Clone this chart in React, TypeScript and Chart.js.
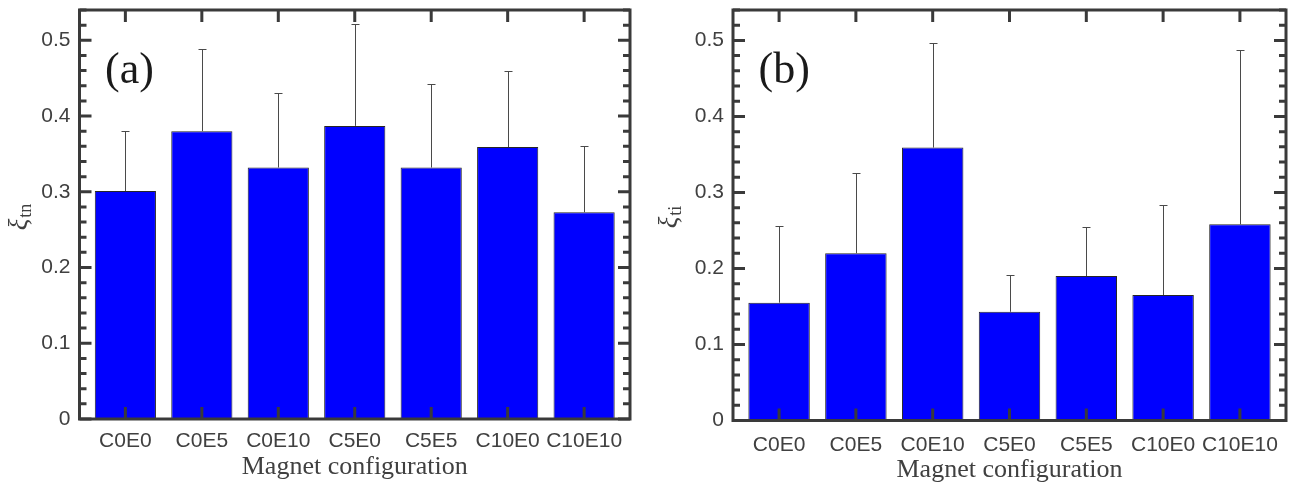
import React, { useEffect, useRef } from 'react';
import { Chart, registerables } from 'chart.js';

Chart.register(...registerables);

const categories = ['C0E0', 'C0E5', 'C0E10', 'C5E0', 'C5E5', 'C10E0', 'C10E10'];
const xiTn = [0.301, 0.38, 0.332, 0.387, 0.332, 0.359, 0.273];
const xiTnErr = [0.079, 0.108, 0.099, 0.134, 0.11, 0.1, 0.088];
const xiTi = [0.155, 0.22, 0.359, 0.143, 0.19, 0.165, 0.258];
const xiTiErr = [0.101, 0.106, 0.137, 0.049, 0.065, 0.118, 0.23];
const yTicks = [0, 0.1, 0.2, 0.3, 0.4, 0.5];
const yTickLabels = ['0', '0.1', '0.2', '0.3', '0.4', '0.5'];
const xTitle = 'Magnet configuration';

const AXIS_COLOR = '#3a3a3a';
const TEXT_COLOR = '#404040';

interface PanelCfg {
  tag: string;
  sub: string;
  values: number[];
  errs: number[];
  left: number;
  width: number;
  yWidth: number;
  padRight: number;
  xHeight: number;
  tickPad: number;
  titlePadBottom: number;
  yTitleX: number;
  yTitleCenter: number;
}

const panels: PanelCfg[] = [
  {
    tag: '(a)', sub: 'tn', values: xiTn, errs: xiTnErr,
    left: 0, width: 645, yWidth: 79.5, padRight: 15, xHeight: 68,
    tickPad: 10, titlePadBottom: 4, yTitleX: 27, yTitleCenter: 217,
  },
  {
    tag: '(b)', sub: 'ti', values: xiTi, errs: xiTiErr,
    left: 645, width: 644, yWidth: 88, padRight: 3, xHeight: 66.5,
    tickPad: 12, titlePadBottom: 1, yTitleX: 32, yTitleCenter: 217,
  },
];

function Panel({ cfg }: { cfg: PanelCfg }) {
  const ref = useRef<HTMLCanvasElement>(null);
  useEffect(() => {
    const decor = {
      id: 'decor',
      afterDatasetsDraw(chart: any) {
        const ctx = chart.ctx as CanvasRenderingContext2D;
        const { left, right, top, bottom } = chart.chartArea;
        const xs = chart.scales.x;
        const ys = chart.scales.y;
        ctx.save();
        // error bars
        ctx.strokeStyle = '#4a4a4a';
        ctx.lineWidth = 1;
        cfg.values.forEach((v, i) => {
          const x = Math.round(xs.getPixelForValue(i + 1)) + 0.5;
          const y0 = ys.getPixelForValue(v);
          const y1 = Math.round(ys.getPixelForValue(v + cfg.errs[i])) + 0.5;
          ctx.beginPath();
          ctx.moveTo(x, y0);
          ctx.lineTo(x, y1);
          ctx.moveTo(x - 4, y1);
          ctx.lineTo(x + 4, y1);
          ctx.stroke();
        });
        // ticks
        ctx.strokeStyle = AXIS_COLOR;
        ctx.lineWidth = 3;
        ctx.beginPath();
        const maxV = ys.max;
        for (let i = 0; i * 0.02 <= maxV + 1e-9; i++) {
          const v = i * 0.02;
          const len = i % 5 === 0 ? 12 : 7;
          const y = ys.getPixelForValue(v);
          ctx.moveTo(left, y);
          ctx.lineTo(left + len, y);
          ctx.moveTo(right, y);
          ctx.lineTo(right - len, y);
        }
        categories.forEach((_, i) => {
          const x = xs.getPixelForValue(i + 1);
          ctx.moveTo(x, bottom);
          ctx.lineTo(x, bottom - 12);
          ctx.moveTo(x, top);
          ctx.lineTo(x, top + 12);
        });
        ctx.stroke();
        // frame
        ctx.lineJoin = 'miter';
        ctx.strokeRect(left, top, right - left, bottom - top);
        // panel tag
        ctx.fillStyle = '#1a1a1a';
        ctx.font = '44px "Liberation Serif", serif';
        ctx.textBaseline = 'alphabetic';
        ctx.textAlign = 'left';
        ctx.fillText(cfg.tag, left + 25.5, 83);
        // y title
        const xiFont = 'italic 27px "Liberation Serif", serif';
        const subFont = '18px "Liberation Serif", serif';
        ctx.font = xiFont;
        const w1 = ctx.measureText('ξ').width;
        ctx.font = subFont;
        const w2 = ctx.measureText(cfg.sub).width;
        const total = w1 + w2 + 1;
        ctx.translate(cfg.yTitleX, cfg.yTitleCenter);
        ctx.rotate(-Math.PI / 2);
        ctx.fillStyle = TEXT_COLOR;
        ctx.font = xiFont;
        ctx.fillText('ξ', -total / 2, 0);
        ctx.font = subFont;
        ctx.fillText(cfg.sub, -total / 2 + w1 + 1, 4);
        ctx.restore();
      },
    };

    const tickFont = { family: '"Liberation Sans", Arial, sans-serif', size: 21 };

    const chart = new Chart(ref.current as HTMLCanvasElement, {
      type: 'bar',
      data: {
        datasets: [
          {
            data: cfg.values.map((v, i) => ({ x: i + 1, y: v })),
            backgroundColor: '#0000ff',
            borderColor: '#262626',
            borderWidth: 1,
            barPercentage: 0.8,
            categoryPercentage: 1,
          } as any,
        ],
      },
      options: {
        responsive: false,
        animation: false,
        events: [],
        layout: { padding: { top: 10, right: cfg.padRight, left: 0, bottom: 0 } },
        plugins: {
          legend: { display: false },
          tooltip: { enabled: false },
          title: { display: false },
        },
        scales: {
          x: {
            type: 'linear',
            min: 0.4,
            max: 7.6,
            offset: false,
            grid: { display: false, drawTicks: false },
            border: { display: false },
            afterBuildTicks: (s: any) => {
              s.ticks = categories.map((_, i) => ({ value: i + 1 }));
            },
            ticks: {
              autoSkip: false,
              maxRotation: 0,
              minRotation: 0,
              padding: cfg.tickPad,
              color: TEXT_COLOR,
              font: tickFont,
              callback: (_v: any, i: number) => categories[i],
            },
            title: {
              display: true,
              text: xTitle,
              color: TEXT_COLOR,
              font: { family: '"Liberation Serif", serif', size: 26 },
              padding: { top: 0, bottom: cfg.titlePadBottom },
            },
            afterFit: (s: any) => {
              s.height = cfg.xHeight;
              s.paddingLeft = 0;
              s.paddingRight = 0;
            },
          },
          y: {
            type: 'linear',
            min: 0,
            max: 0.54,
            grid: { display: false, drawTicks: false },
            border: { display: false },
            afterBuildTicks: (s: any) => {
              s.ticks = yTicks.map((v) => ({ value: v }));
            },
            ticks: {
              padding: 9,
              color: TEXT_COLOR,
              font: tickFont,
              callback: (_v: any, i: number) => yTickLabels[i],
            },
            afterFit: (s: any) => {
              s.width = cfg.yWidth;
              s.paddingTop = 0;
              s.paddingBottom = 0;
            },
          },
        },
      } as any,
      plugins: [decor],
    });
    return () => chart.destroy();
  }, []);
  return (
    <canvas
      ref={ref}
      width={cfg.width}
      height={487}
      style={{ position: 'absolute', left: cfg.left, top: 0, width: cfg.width, height: 487 }}
    />
  );
}

export default function App() {
  return (
    <div style={{ position: 'absolute', left: 0, top: 0, width: 1289, height: 487, background: '#fff' }}>
      {panels.map((p) => (
        <Panel key={p.tag} cfg={p} />
      ))}
    </div>
  );
}
